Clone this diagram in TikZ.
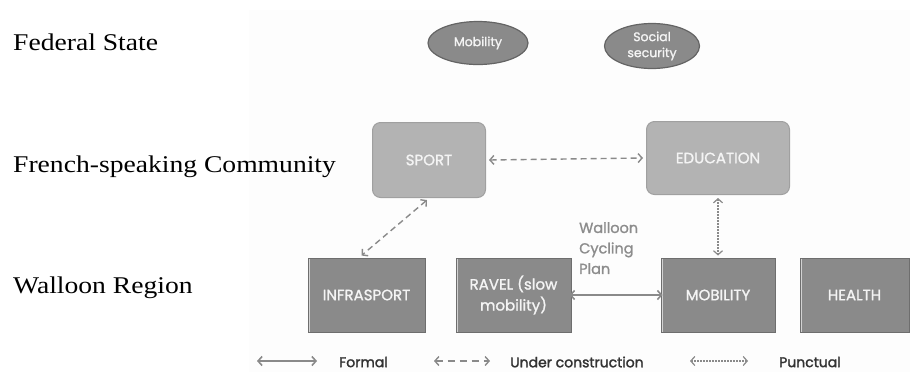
\documentclass[tikz,border=0pt]{standalone}
\usepackage{fontspec}
\usepackage{graphicx}
\setmainfont{Liberation Serif}
\newfontfamily\gfont{Poppins}
\newfontfamily\gfontb{Poppins}[FakeBold=1.3]
\newfontfamily\gfontl{Poppins}[FakeBold=1.8]
\usetikzlibrary{shapes.geometric,arrows.meta}
\definecolor{panelc}{HTML}{FDFDFD}
\definecolor{ellc}{HTML}{8A8A8A}
\definecolor{elldraw}{HTML}{646464}
\definecolor{lightc}{HTML}{B3B3B3}
\definecolor{lightd}{HTML}{A0A0A0}
\definecolor{darkc}{HTML}{8A8A8A}
\definecolor{darkd}{HTML}{6E6E6E}
\definecolor{edgec}{HTML}{D2D2D2}
\definecolor{arrc}{HTML}{8A8A8A}
\definecolor{labc}{HTML}{8C8C8C}
\definecolor{legc}{HTML}{333333}
\definecolor{boxtxt}{HTML}{F4F4F4}
\tikzset{
  lvl/.style={anchor=west, inner sep=0pt, font=\fontsize{24}{28}\selectfont},
  ell/.style={ellipse, fill=ellc, draw=elldraw, line width=1.2pt, text=boxtxt,
    inner sep=0pt, align=center, font=\gfontb\fontsize{12.5}{16}\selectfont},
  lightbox/.style={rectangle, rounded corners=8pt, fill=lightc, draw=lightd, line width=1pt,
    text=boxtxt, inner sep=0pt, font=\gfontb\fontsize{15}{18}\selectfont},
  darkbox/.style={rectangle, fill=darkc, draw=darkd, line width=1pt, text=boxtxt,
    inner sep=0pt, align=center, font=\gfontb\fontsize{15}{21}\selectfont},
  tipb/.style={{Straight Barb[length=4pt,width=9pt]}-{Straight Barb[length=4pt,width=9pt]}},
  solidarr/.style={tipb, draw=arrc, line width=1.6pt},
  dasharr/.style={tipb, draw=arrc, line width=1.4pt, dash pattern=on 6pt off 4pt},
  dotarr/.style={tipb, draw=arrc, line width=1.2pt, dash pattern=on 1.5pt off 1.5pt},
  legtxt/.style={anchor=west, inner sep=0pt, text=legc, font=\gfontl\fontsize{14}{17}\selectfont},
}
\begin{document}
\begin{tikzpicture}[x=1pt,y=-1pt]
\useasboundingbox (0,0) rectangle (910,381);
\fill[panelc] (249,10) rectangle (910,372);

% level labels
\node[lvl] (fed) at (13,42) {\scalebox{1.15}[1]{Federal State}};
\node[lvl] (fsc) at (13,167) {\scalebox{1.15}[1]{French-speaking Community}};
\node[lvl] (wal) at (13,288) {\scalebox{1.15}[1]{Walloon Region}};

% federal
\node[ell, minimum width=100pt, minimum height=43pt] (fmob) at (478,43) {Mobility};
\node[ell, minimum width=95pt, minimum height=45pt] (fsoc) at (652,46) {Social\\security};

% community
\node[lightbox, minimum width=113pt, minimum height=75pt] (sport) at (429,160) {SPORT};
\node[lightbox, minimum width=143pt, minimum height=73pt] (edu) at (718,158) {EDUCATION};

% region
\node[darkbox, minimum width=117pt, minimum height=74pt] (infra) at (366.5,295) {INFRASPORT};
\node[darkbox, minimum width=115pt, minimum height=74pt] (ravel) at (513.5,295) {RAVEL (slow\\mobility)};
\node[darkbox, minimum width=114pt, minimum height=74pt] (mob) at (718,295) {MOBILITY};
\node[darkbox, minimum width=109pt, minimum height=74pt] (health) at (854.5,295) {HEALTH};
\foreach \n in {infra,ravel,mob,health}{
  \draw[edgec, line width=1.5pt] ([xshift=2pt,yshift=-1pt]\n.north west) -- ([xshift=2pt,yshift=1pt]\n.south west);
}

% connectors
\draw[dasharr] ([xshift=3pt]sport.east) -- ([xshift=-3pt]edu.west);
\draw[dasharr] ([xshift=-2pt,yshift=-2pt]sport.south) -- ([xshift=-5pt,yshift=2pt]infra.north);
\draw[dotarr] ([yshift=-3pt]edu.south) -- ([yshift=2pt]mob.north);
\draw[solidarr] ([xshift=-2pt]ravel.east) -- ([xshift=2pt]mob.west);

\node[anchor=north west, inner sep=0pt, align=left, text=labc,
  font=\gfontb\fontsize{14.5}{20.5}\selectfont] (wcp) at (579,222) {Walloon\\Cycling\\Plan};

% legend
\coordinate (l1a) at (257,361); \coordinate (l1b) at (317,361);
\coordinate (l2a) at (434,361); \coordinate (l2b) at (490,361);
\coordinate (l3a) at (690,361); \coordinate (l3b) at (748,361);
\draw[solidarr] (l1a) -- (l1b);
\draw[dasharr, dash pattern=on 7pt off 5pt] (l2a) -- (l2b);
\draw[dotarr] (l3a) -- (l3b);
\node[legtxt] (lf) at (339,362) {Formal};
\node[legtxt] (lu) at (510,362) {Under construction};
\node[legtxt] (lp) at (779,362) {Punctual};
\end{tikzpicture}
\end{document}
